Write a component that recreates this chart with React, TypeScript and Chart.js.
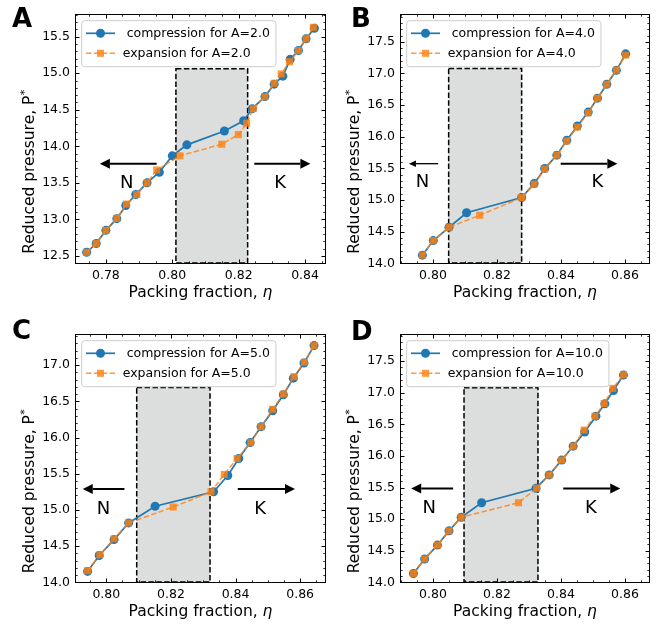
import React, { useEffect, useRef } from "react";
import { Chart, registerables } from "chart.js";

Chart.register(...registerables);

const FONT = "'DejaVu Sans', sans-serif";

// ---------------- Panel A (A = 2.0) ----------------
const compXA = [0.7742, 0.7771, 0.78, 0.7833, 0.786, 0.789, 0.7924, 0.7961, 0.8, 0.8044, 0.8157, 0.8215, 0.8241, 0.8279, 0.8307, 0.8333, 0.8355, 0.838, 0.8403, 0.8428];
const compYA = [12.55, 12.67, 12.85, 13.01, 13.19, 13.34, 13.5, 13.645, 13.87, 14.02, 14.21, 14.35, 14.515, 14.68, 14.85, 14.96, 15.19, 15.31, 15.47, 15.615];
const expXA = [0.7742, 0.7771, 0.78, 0.7833, 0.7862, 0.7893, 0.7924, 0.7953, 0.8023, 0.8149, 0.8199, 0.8224, 0.8244, 0.8279, 0.8307, 0.8328, 0.8353, 0.838, 0.8403, 0.8425];
const expYA = [12.55, 12.67, 12.85, 13.015, 13.21, 13.34, 13.5, 13.676, 13.87, 14.028, 14.16, 14.315, 14.515, 14.68, 14.862, 14.99, 15.158, 15.31, 15.47, 15.628];
const xTicksA = [0.78, 0.8, 0.82, 0.84];
const yTicksA = [12.5, 13.0, 13.5, 14.0, 14.5, 15.0, 15.5];

// ---------------- Panel B (A = 4.0) ----------------
const compXB = [0.7967, 0.8001, 0.805, 0.8105, 0.8277, 0.8316, 0.8349, 0.8387, 0.8418, 0.8451, 0.8485, 0.8514, 0.8543, 0.8573, 0.8602];
const compYB = [14.13, 14.36, 14.57, 14.8, 15.04, 15.26, 15.5, 15.71, 15.945, 16.17, 16.39, 16.61, 16.83, 17.05, 17.31];
const expXB = [0.7967, 0.8001, 0.805, 0.8146, 0.8277, 0.8316, 0.8349, 0.8387, 0.8418, 0.8451, 0.8485, 0.8514, 0.8543, 0.8573, 0.8602];
const expYB = [14.13, 14.36, 14.57, 14.76, 15.04, 15.25, 15.49, 15.71, 15.935, 16.155, 16.38, 16.61, 16.83, 17.055, 17.29];
const xTicksB = [0.8, 0.82, 0.84, 0.86];
const yTicksB = [14.0, 14.5, 15.0, 15.5, 16.0, 16.5, 17.0, 17.5];

// ---------------- Panel C (A = 5.0) ----------------
const compXC = [0.7942, 0.7978, 0.8024, 0.8069, 0.8151, 0.8332, 0.8376, 0.841, 0.8445, 0.8479, 0.8515, 0.8548, 0.8579, 0.8612, 0.8643];
const compYC = [14.15, 14.37, 14.59, 14.82, 15.05, 15.25, 15.475, 15.71, 15.93, 16.15, 16.37, 16.59, 16.82, 17.03, 17.27];
const expXC = [0.7942, 0.798, 0.8024, 0.8069, 0.8207, 0.8324, 0.8365, 0.8405, 0.8447, 0.8479, 0.8515, 0.8548, 0.8581, 0.8613, 0.8643];
const expYC = [14.16, 14.38, 14.6, 14.82, 15.04, 15.25, 15.49, 15.71, 15.93, 16.15, 16.39, 16.6, 16.84, 17.04, 17.27];
const xTicksC = [0.8, 0.82, 0.84, 0.86];
const yTicksC = [14.0, 14.5, 15.0, 15.5, 16.0, 16.5, 17.0];

// ---------------- Panel D (A = 10.0) ----------------
const compXD = [0.7939, 0.7974, 0.8014, 0.805, 0.8088, 0.8152, 0.8322, 0.8363, 0.8402, 0.8438, 0.8474, 0.8509, 0.8537, 0.8564, 0.8595];
const compYD = [14.14, 14.37, 14.59, 14.815, 15.03, 15.26, 15.49, 15.7, 15.935, 16.155, 16.38, 16.63, 16.825, 17.035, 17.28];
const expXD = [0.7939, 0.7974, 0.8014, 0.805, 0.8088, 0.8267, 0.8324, 0.8363, 0.8402, 0.8438, 0.8472, 0.8506, 0.8535, 0.8562, 0.8595];
const expYD = [14.14, 14.37, 14.59, 14.815, 15.03, 15.26, 15.49, 15.7, 15.935, 16.155, 16.41, 16.63, 16.83, 17.07, 17.285];
const xTicksD = [0.8, 0.82, 0.84, 0.86];
const yTicksD = [14.0, 14.5, 15.0, 15.5, 16.0, 16.5, 17.0, 17.5];

// coexistence (shaded) windows, in data units
const shadeA = { x0: 0.8011, x1: 0.8227, top: 15.06 };
const shadeB = { x0: 0.8049, x1: 0.8277, top: 17.08 };
const shadeC = { x0: 0.8094, x1: 0.8321, top: 16.69 };
const shadeD = { x0: 0.8097, x1: 0.8328, top: 17.08 };

type Arrow = { from: number; to: number; y: number; big: boolean };
type Note = { text: string; x: number; y: number };

const arrowsA: Arrow[] = [
  { from: 0.7953, to: 0.7782, y: 13.76, big: true },
  { from: 0.8247, to: 0.8416, y: 13.76, big: true },
];
const notesA: Note[] = [
  { text: "N", x: 0.7863, y: 13.5 },
  { text: "K", x: 0.8325, y: 13.5 },
];
const arrowsB: Arrow[] = [
  { from: 0.8016, to: 0.7925, y: 15.575, big: false },
  { from: 0.8399, to: 0.8576, y: 15.575, big: true },
];
const notesB: Note[] = [
  { text: "N", x: 0.7967, y: 15.28 },
  { text: "K", x: 0.8514, y: 15.28 },
];
const arrowsC: Arrow[] = [
  { from: 0.8056, to: 0.7927, y: 15.29, big: true },
  { from: 0.8407, to: 0.8584, y: 15.29, big: true },
];
const notesC: Note[] = [
  { text: "N", x: 0.7991, y: 15.01 },
  { text: "K", x: 0.8476, y: 15.01 },
];
const arrowsD: Arrow[] = [
  { from: 0.8063, to: 0.7932, y: 15.487, big: true },
  { from: 0.8407, to: 0.8585, y: 15.487, big: true },
];
const notesD: Note[] = [
  { text: "N", x: 0.7988, y: 15.17 },
  { text: "K", x: 0.8493, y: 15.17 },
];

type Panel = {
  letter: string;
  aValue: string;
  compX: number[]; compY: number[]; expX: number[]; expY: number[];
  xRange: [number, number]; yRange: [number, number];
  xTicks: number[]; yTicks: number[];
  shade: { x0: number; x1: number; top: number };
  arrows: Arrow[]; notes: Note[];
  box: { left: number; top: number; width: number; height: number };
  area: { left: number; right: number; top: number; bottom: number };
};

const panels: Panel[] = [
  {
    letter: "A", aValue: "2.0",
    compX: compXA, compY: compYA, expX: expXA, expY: expYA,
    xRange: [0.7707, 0.8463], yRange: [12.39, 15.81],
    xTicks: xTicksA, yTicks: yTicksA, shade: shadeA, arrows: arrowsA, notes: notesA,
    box: { left: 0, top: 0, width: 334, height: 313 },
    area: { left: 75, right: 326, top: 14, bottom: 264 },
  },
  {
    letter: "B", aValue: "4.0",
    compX: compXB, compY: compYB, expX: expXB, expY: expYB,
    xRange: [0.7897, 0.8678], yRange: [13.99, 17.94],
    xTicks: xTicksB, yTicks: yTicksB, shade: shadeB, arrows: arrowsB, notes: notesB,
    box: { left: 334, top: 0, width: 334, height: 313 },
    area: { left: 66, right: 316, top: 14, bottom: 264 },
  },
  {
    letter: "C", aValue: "5.0",
    compX: compXC, compY: compYC, expX: expXC, expY: expYC,
    xRange: [0.7903, 0.868], yRange: [13.99, 17.43],
    xTicks: xTicksC, yTicks: yTicksC, shade: shadeC, arrows: arrowsC, notes: notesC,
    box: { left: 0, top: 313, width: 334, height: 314 },
    area: { left: 75, right: 326, top: 21, bottom: 270 },
  },
  {
    letter: "D", aValue: "10.0",
    compX: compXD, compY: compYD, expX: expXD, expY: expYD,
    xRange: [0.7897, 0.8678], yRange: [13.99, 17.93],
    xTicks: xTicksD, yTicks: yTicksD, shade: shadeD, arrows: arrowsD, notes: notesD,
    box: { left: 334, top: 313, width: 334, height: 314 },
    area: { left: 66, right: 316, top: 21, bottom: 270 },
  },
];

const BLUE = "#1f77b4";
const ORANGE = "rgba(255,127,14,0.8)";

function drawArrow(ctx: CanvasRenderingContext2D, x0: number, y0: number, x1: number, y1: number, big: boolean) {
  const shaft = big ? 2 : 1.3;
  const headLen = big ? 10 : 7;
  const headW = big ? 10 : 6.5;
  const ang = Math.atan2(y1 - y0, x1 - x0);
  const c = Math.cos(ang), s = Math.sin(ang);
  const bx = x1 - headLen * c, by = y1 - headLen * s;
  ctx.save();
  ctx.strokeStyle = "#000";
  ctx.fillStyle = "#000";
  ctx.lineWidth = shaft;
  ctx.beginPath();
  ctx.moveTo(x0, y0);
  ctx.lineTo(bx, by);
  ctx.stroke();
  ctx.beginPath();
  ctx.moveTo(x1, y1);
  ctx.lineTo(bx - (headW / 2) * s, by + (headW / 2) * c);
  ctx.lineTo(bx + (headW / 2) * s, by - (headW / 2) * c);
  ctx.closePath();
  ctx.fill();
  ctx.restore();
}

function minorValues(min: number, max: number, step: number) {
  const out: number[] = [];
  const start = Math.ceil(min / step - 1e-6);
  const end = Math.floor(max / step + 1e-6);
  for (let i = start; i <= end; i++) out.push(i * step);
  return out;
}

function makePlugin(p: Panel) {
  return {
    id: "panelDecor" + p.letter,
    beforeDatasetsDraw(chart: any) {
      const { ctx } = chart;
      const xs = chart.scales.x, ys = chart.scales.y;
      const x0 = xs.getPixelForValue(p.shade.x0);
      const x1 = xs.getPixelForValue(p.shade.x1);
      const yt = ys.getPixelForValue(p.shade.top);
      const yb = ys.getPixelForValue(ys.min) - 1;
      ctx.save();
      ctx.fillStyle = "#dcdddd";
      ctx.fillRect(x0, yt, x1 - x0, yb - yt);
      ctx.strokeStyle = "#000";
      ctx.lineWidth = 1.5;
      ctx.setLineDash([5.5, 2.4]);
      ctx.strokeRect(x0, yt, x1 - x0, yb - yt);
      ctx.restore();
    },
    afterDatasetsDraw(chart: any) {
      const { ctx, chartArea: ca } = chart;
      const xs = chart.scales.x, ys = chart.scales.y;

      // arrows and phase labels
      p.arrows.forEach((a) => {
        const py = ys.getPixelForValue(a.y);
        drawArrow(ctx, xs.getPixelForValue(a.from), py, xs.getPixelForValue(a.to), py, a.big);
      });
      ctx.save();
      ctx.fillStyle = "#000";
      ctx.font = `18px ${FONT}`;
      ctx.textAlign = "center";
      ctx.textBaseline = "middle";
      p.notes.forEach((n) => {
        ctx.fillText(n.text, xs.getPixelForValue(n.x), ys.getPixelForValue(n.y));
      });
      ctx.restore();

      // frame
      ctx.save();
      ctx.strokeStyle = "#000";
      ctx.lineWidth = 1;
      const L = Math.round(ca.left) + 0.5, R = Math.round(ca.right) - 0.5;
      const T = Math.round(ca.top) + 0.5, B = Math.round(ca.bottom) - 0.5;
      ctx.strokeRect(L, T, R - L, B - T);

      // inward ticks on all four sides
      const drawX = (vals: number[], len: number) => {
        vals.forEach((v) => {
          const px = Math.round(xs.getPixelForValue(v)) + 0.5;
          if (px < L || px > R) return;
          ctx.beginPath();
          ctx.moveTo(px, B); ctx.lineTo(px, B - len);
          ctx.moveTo(px, T); ctx.lineTo(px, T + len);
          ctx.stroke();
        });
      };
      const drawY = (vals: number[], len: number) => {
        vals.forEach((v) => {
          const py = Math.round(ys.getPixelForValue(v)) + 0.5;
          if (py < T || py > B) return;
          ctx.beginPath();
          ctx.moveTo(L, py); ctx.lineTo(L + len, py);
          ctx.moveTo(R, py); ctx.lineTo(R - len, py);
          ctx.stroke();
        });
      };
      ctx.lineWidth = 0.8;
      drawX(minorValues(xs.min, xs.max, 0.005), 2.2);
      drawY(minorValues(ys.min, ys.max, 0.1), 2.2);
      ctx.lineWidth = 1;
      drawX(p.xTicks, 4);
      drawY(p.yTicks, 4);
      ctx.restore();

      // legend
      const lx = ca.left + 6.7, ly = ca.top + 6.7;
      ctx.save();
      ctx.font = `12.5px ${FONT}`;
      const labels = chart.data.datasets.map((d: any) => d.label as string);
      const tw = Math.max(...labels.map((t: string) => ctx.measureText(t).width));
      const lw = 41 + tw + 6, lh = 46;
      const r = 3;
      ctx.beginPath();
      ctx.moveTo(lx + r, ly);
      ctx.arcTo(lx + lw, ly, lx + lw, ly + lh, r);
      ctx.arcTo(lx + lw, ly + lh, lx, ly + lh, r);
      ctx.arcTo(lx, ly + lh, lx, ly, r);
      ctx.arcTo(lx, ly, lx + lw, ly, r);
      ctx.closePath();
      ctx.fillStyle = "rgba(255,255,255,0.8)";
      ctx.fill();
      ctx.strokeStyle = "#cccccc";
      ctx.lineWidth = 1;
      ctx.stroke();
      chart.data.datasets.forEach((d: any, i: number) => {
        const cy = ly + 12.6 + i * 20;
        const hx0 = lx + 4.3, hx1 = lx + 33.3, hm = (hx0 + hx1) / 2;
        ctx.strokeStyle = d.borderColor;
        ctx.fillStyle = d.backgroundColor;
        ctx.lineWidth = d.borderWidth;
        ctx.setLineDash(d.borderDash || []);
        ctx.beginPath();
        ctx.moveTo(hx0, cy); ctx.lineTo(hx1, cy);
        ctx.stroke();
        ctx.setLineDash([]);
        ctx.beginPath();
        if (d.pointStyle === "rect") {
          const sz = d.pointRadius * Math.SQRT1_2;
          ctx.rect(hm - sz, cy - sz, 2 * sz, 2 * sz);
        } else {
          ctx.arc(hm, cy, d.pointRadius, 0, Math.PI * 2);
        }
        ctx.fill();
        ctx.fillStyle = "#000";
        ctx.textBaseline = "middle";
        ctx.textAlign = "left";
        ctx.fillText(d.label, lx + 41, cy + 0.5);
      });
      ctx.restore();

      // axis titles
      ctx.save();
      ctx.fillStyle = "#000";
      ctx.textBaseline = "alphabetic";
      ctx.textAlign = "left";
      const main = `15.5px ${FONT}`;
      const ital = `italic 15.5px ${FONT}`;
      const t1 = "Packing fraction, ";
      const t2 = "\u03b7";
      ctx.font = main;
      const w1 = ctx.measureText(t1).width;
      ctx.font = ital;
      const w2 = ctx.measureText(t2).width;
      const cx = (ca.left + ca.right) / 2;
      const by = ca.bottom + 32.5;
      ctx.font = main;
      ctx.fillText(t1, cx - (w1 + w2) / 2, by);
      ctx.font = ital;
      ctx.fillText(t2, cx - (w1 + w2) / 2 + w1, by);

      const yt1 = "Reduced pressure, P";
      const sup = "*";
      ctx.font = main;
      const wm = ctx.measureText(yt1).width;
      ctx.font = `11px ${FONT}`;
      const ws = ctx.measureText(sup).width;
      ctx.translate(ca.left - 41, (ca.top + ca.bottom) / 2 + 33);
      ctx.rotate(-Math.PI / 2);
      const sx = -(wm + ws) / 2;
      ctx.font = main;
      ctx.fillText(yt1, sx, 0);
      ctx.font = `11px ${FONT}`;
      ctx.fillText(sup, sx + wm + 0.5, -6.5);
      ctx.restore();
    },
  };
}

function PanelChart({ p }: { p: Panel }) {
  const ref = useRef<HTMLCanvasElement | null>(null);
  useEffect(() => {
    if (!ref.current) return;
    const W = p.box.width, H = p.box.height;
    const chart = new Chart(ref.current, {
      type: "line",
      data: {
        datasets: [
          {
            label: ` compression for A=${p.aValue}`,
            data: p.compX.map((v, i) => ({ x: v, y: p.compY[i] })),
            borderColor: BLUE,
            backgroundColor: BLUE,
            borderWidth: 1.7,
            pointStyle: "circle",
            pointRadius: 4.5,
            pointBorderWidth: 0,
            order: 1,
          },
          {
            label: `expansion for A=${p.aValue}`,
            data: p.expX.map((v, i) => ({ x: v, y: p.expY[i] })),
            borderColor: ORANGE,
            backgroundColor: ORANGE,
            borderWidth: 1.5,
            borderDash: [5.5, 2.4],
            pointStyle: "rect",
            pointRadius: 5,
            pointBorderWidth: 0,
            order: 0,
          },
        ] as any,
      },
      options: {
        responsive: false,
        animation: false,
        devicePixelRatio: 1,
        events: [],
        layout: {
          padding: { left: 0, top: p.area.top, right: W - p.area.right, bottom: 0 },
        },
        plugins: { legend: { display: false }, tooltip: { enabled: false } },
        scales: {
          x: {
            type: "linear",
            min: p.xRange[0],
            max: p.xRange[1],
            grid: { display: false, drawTicks: false },
            border: { display: false },
            ticks: {
              autoSkip: false,
              maxRotation: 0,
              padding: 4,
              color: "#000",
              font: { family: FONT, size: 12.5 },
              callback: (v: any) => Number(v).toFixed(2),
            },
            afterBuildTicks: (scale: any) => {
              scale.ticks = p.xTicks.map((value) => ({ value }));
            },
            afterFit: (scale: any) => {
              scale.height = H - p.area.bottom;
            },
          },
          y: {
            type: "linear",
            min: p.yRange[0],
            max: p.yRange[1],
            grid: { display: false, drawTicks: false },
            border: { display: false },
            ticks: {
              autoSkip: false,
              padding: 5,
              color: "#000",
              font: { family: FONT, size: 12.5 },
              callback: (v: any) => Number(v).toFixed(1),
            },
            afterBuildTicks: (scale: any) => {
              scale.ticks = p.yTicks.map((value) => ({ value }));
            },
            afterFit: (scale: any) => {
              scale.width = p.area.left;
            },
          },
        },
      } as any,
      plugins: [makePlugin(p)],
    });
    return () => chart.destroy();
  }, [p]);
  return (
    <canvas
      ref={ref}
      width={p.box.width}
      height={p.box.height}
      style={{ position: "absolute", left: p.box.left, top: p.box.top, width: p.box.width, height: p.box.height }}
    />
  );
}

const letterPos: Record<string, { left: number; top: number }> = {
  A: { left: 12, top: 3 },
  B: { left: 351, top: 3 },
  C: { left: 12, top: 315 },
  D: { left: 351, top: 316 },
};

export default function App() {
  return (
    <div style={{ position: "absolute", left: 0, top: 0, width: 668, height: 627, background: "#fff", overflow: "hidden" }}>
      {panels.map((p) => (
        <PanelChart key={p.letter} p={p} />
      ))}
      {panels.map((p) => (
        <div
          key={"l" + p.letter}
          style={{
            position: "absolute",
            left: letterPos[p.letter].left,
            top: letterPos[p.letter].top,
            font: `bold 26px 'DejaVu Sans', sans-serif`,
            lineHeight: "30px",
            color: "#000",
          }}
        >
          {p.letter}
        </div>
      ))}
    </div>
  );
}
